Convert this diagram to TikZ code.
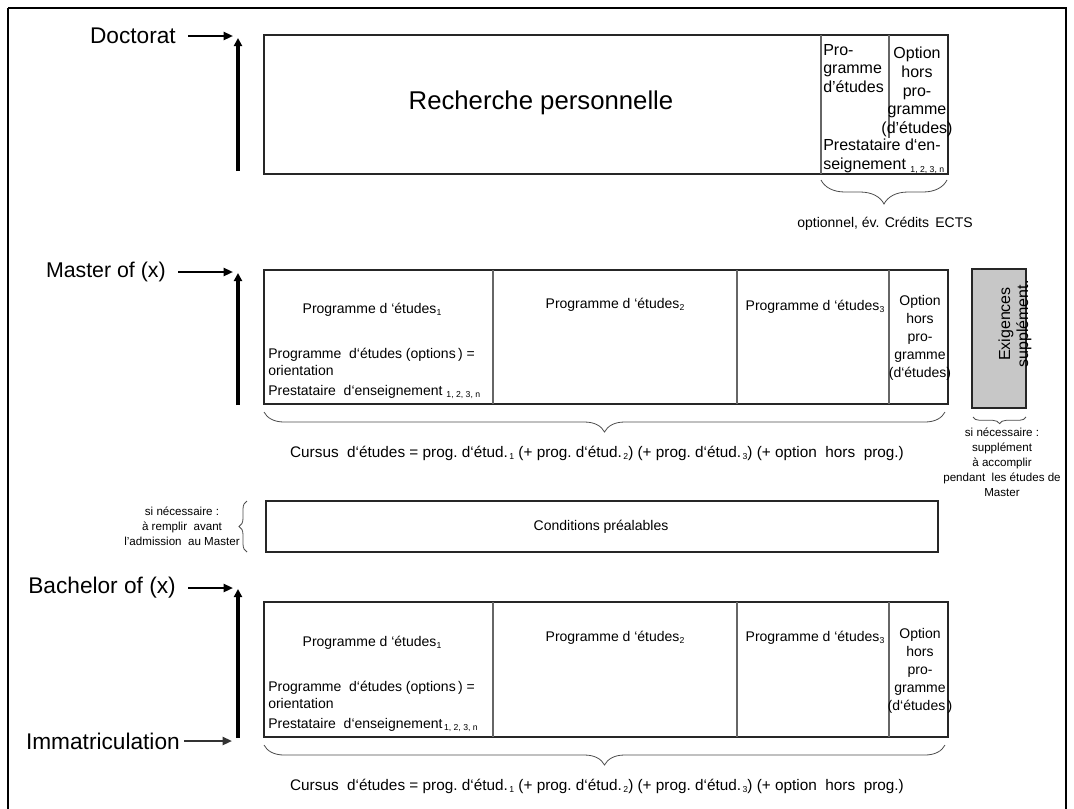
\documentclass[tikz,border=0pt]{standalone}
\usepackage{fontspec}
\setmainfont{Liberation Sans}
\usetikzlibrary{fit,decorations.pathreplacing,arrows.meta,calc}
\newcommand\lowsub[1]{\raisebox{-0.35ex}{\fontsize{6.5}{7}\selectfont #1}}
\begin{document}
\begin{tikzpicture}[x=0.75pt,y=-0.75pt,
  lvl/.style={font=\fontsize{17}{20}\selectfont, inner sep=0pt},
  big/.style={font=\fontsize{19.3}{23}\selectfont, inner sep=0pt},
  dtxt/.style={font=\fontsize{12}{14}\selectfont, inner sep=0pt},
  txt/.style={font=\fontsize{10.5}{13.5}\selectfont, inner sep=0pt},
  cur/.style={font=\fontsize{11.5}{13.5}\selectfont, inner sep=0pt},
  note/.style={font=\fontsize{8.7}{11.25}\selectfont, inner sep=0pt, align=center},
  box/.style={draw=black!85, line width=0.8pt, inner sep=0pt, fit=#1},
  divl/.style={draw=black!60, line width=0.8pt},
  harr/.style={line width=1.6pt, -{Triangle[length=7pt,width=6pt]}, shorten <=9pt},
  varr/.style={line width=2.4pt, -{Triangle[length=6pt,width=6pt]}},
  brc/.style={draw=black!70, line width=0.6pt, decorate, decoration={brace, amplitude=#1}},
  ]
\useasboundingbox (0,0) rectangle (1074,808);
% outer frame
\draw[line width=2pt] (8,8) -- (1066,8) -- (1066,830) (8,8) -- (8,830);

% ---------------- Doctorat
\node[lvl, anchor=east] (ldoc) at (176,36) {Doctorat};
\coordinate (adoc) at (233,36);
\draw[harr] (ldoc) -- (adoc);
\coordinate (vdb) at (238,171);
\coordinate (vdt) at (238,38);
\draw[varr] (vdb) -- (vdt);

\coordinate (d1) at (264,35); \coordinate (d2) at (948,174);
\node[box={(d1)(d2)}] (doc) {};
\coordinate (dd1t) at (821,35); \coordinate (dd1b) at (821,174);
\coordinate (dd2t) at (889,35); \coordinate (dd2b) at (889,138);
\draw[divl] (dd1t) -- (dd1b);
\draw[divl] (dd2t) -- (dd2b);
\node[big] (rech) at (541,103) {Recherche personnelle};
\node[dtxt, anchor=north west, align=left] (dprog) at (823,44) {Pro-\\gramme\\d’études};
\node[dtxt, anchor=north, align=center] (dopt) at (917,47) {Option\\hors\\pro-\\gramme\\(d’études)};
\node[dtxt, anchor=north west, align=left] (dpres) at (823,139) {Prestataire d‘en-\\seignement \lowsub{1, 2, 3, n}};
\coordinate (dbr) at (947,180); \coordinate (dbl) at (821,180);
\draw[brc=18pt] (dbr) -- (dbl);
\node[txt, anchor=base] (dects) at (885,227) {optionnel, év. Crédits\, ECTS};

% ---------------- Master
\node[lvl, anchor=east, font=\fontsize{16}{19}\selectfont] (lmas) at (166,272) {Master of (x)};
\coordinate (amas) at (233,272);
\draw[harr] (lmas) -- (amas);
\coordinate (vmb) at (238,405);
\coordinate (vmt) at (238,273);
\draw[varr] (vmb) -- (vmt);

\coordinate (m1) at (264,270); \coordinate (m2) at (948,404);
\node[box={(m1)(m2)}] (mas) {};
\foreach \xx/\nn in {493/ma,737/mb,889/mc}{
  \coordinate (\nn t) at (\xx,270); \coordinate (\nn b) at (\xx,404);
  \draw[divl] (\nn t) -- (\nn b);
}
\node[txt, anchor=base] (mp1) at (372,313) {Programme d ‘études\lowsub{1}};
\node[txt, anchor=base west] (mpo) at (268,358) {Programme\ \ d‘études (options\,) =};
\node[txt, anchor=base west] (mor) at (268,375) {orientation};
\node[txt, anchor=base west] (mpr) at (268,395) {Prestataire\ \ d‘enseignement \lowsub{1, 2, 3, n}};
\node[txt, anchor=base] (mp2) at (615,308) {Programme d ‘études\lowsub{2}};
\node[txt, anchor=base] (mp3) at (815,310) {Programme d ‘études\lowsub{3}};
\node[txt, anchor=north, align=center, font=\fontsize{10.5}{13.5}\selectfont] (mopt) at (920,295) {Option\\hors\\pro-\\gramme\\(d‘études)};
\coordinate (mbr) at (945,412); \coordinate (mbl) at (264,412);
\draw[brc=15pt] (mbr) -- (mbl);
\node[cur, anchor=base] (mcur) at (597,457) {Cursus\ \ d‘études = prog.\ d‘étud.\lowsub{\,1} (+ prog.\ d‘étud.\lowsub{\,2}) (+ prog.\ d‘étud.\lowsub{\,3}) (+ option\ \ hors\ \ prog.)};

% Exigences
\coordinate (e1) at (972,269); \coordinate (e2) at (1026,408);
\node[box={(e1)(e2)}, fill=black!22] (exi) {};
\node[font=\fontsize{12}{13.5}\selectfont, rotate=90, align=center, inner sep=0pt] (exit) at (1015,324) {Exigences\\supplément.};
\coordinate (ebr) at (1026,417); \coordinate (ebl) at (973,417);
\draw[brc=5pt] (ebr) -- (ebl);
\node[note, anchor=north] (enote) at (1002,428) {si nécessaire :\\supplément\\à accomplir\\pendant\ \ les études de\\Master};

% ---------------- Conditions
\coordinate (c1) at (266,501); \coordinate (c2) at (938,552);
\node[box={(c1)(c2)}] (cond) {};
\node[txt, font=\fontsize{10.5}{13}\selectfont] (condt) at (601,527) {Conditions préalables};
\coordinate (cbb) at (247,552); \coordinate (cbt) at (247,501);
\draw[brc=6pt] (cbb) -- (cbt);
\node[note, anchor=north] (cnote) at (182,507) {si\ nécessaire :\\à\ remplir\ \ avant\\l'admission\ \ au Master};

% ---------------- Bachelor
\node[lvl, anchor=east] (lbac) at (176,588) {Bachelor of (x)};
\coordinate (abac) at (233,588);
\draw[harr] (lbac) -- (abac);
\node[lvl, anchor=east] (limm) at (180,741) {Immatriculation};
\coordinate (aimm) at (232,741);
\draw[harr, shorten <=3pt, draw=black!80] (limm) -- (aimm);
\coordinate (vbb) at (238,738);
\coordinate (vbt) at (238,589);
\draw[varr] (vbb) -- (vbt);

\coordinate (b1) at (264,602); \coordinate (b2) at (948,737);
\node[box={(b1)(b2)}] (bac) {};
\foreach \xx/\nn in {493/ba,737/bb,889/bc}{
  \coordinate (\nn t) at (\xx,602); \coordinate (\nn b) at (\xx,737);
  \draw[divl] (\nn t) -- (\nn b);
}
\node[txt, anchor=base] (bp1) at (372,646) {Programme d ‘études\lowsub{1}};
\node[txt, anchor=base west] (bpo) at (268,691) {Programme\ \ d‘études (options\,) =};
\node[txt, anchor=base west] (bor) at (268,708) {orientation};
\node[txt, anchor=base west] (bpr) at (268,728) {Prestataire\ \ d‘enseignement\lowsub{\,1, 2, 3, n}};
\node[txt, anchor=base] (bp2) at (615,641) {Programme d ‘études\lowsub{2}};
\node[txt, anchor=base] (bp3) at (815,641) {Programme d ‘études\lowsub{3}};
\node[txt, anchor=north, align=center] (bopt) at (920,628) {Option\\hors\\pro-\\gramme\\(d‘études\,)};
\coordinate (bbr) at (945,745); \coordinate (bbl) at (264,745);
\draw[brc=15pt] (bbr) -- (bbl);
\node[cur, anchor=base] (bcur) at (597,790) {Cursus\ \ d‘études = prog.\ d‘étud.\lowsub{\,1} (+ prog.\ d‘étud.\lowsub{\,2}) (+ prog.\ d‘étud.\lowsub{\,3}) (+ option\ \ hors\ \ prog.)};
\end{tikzpicture}
\end{document}
